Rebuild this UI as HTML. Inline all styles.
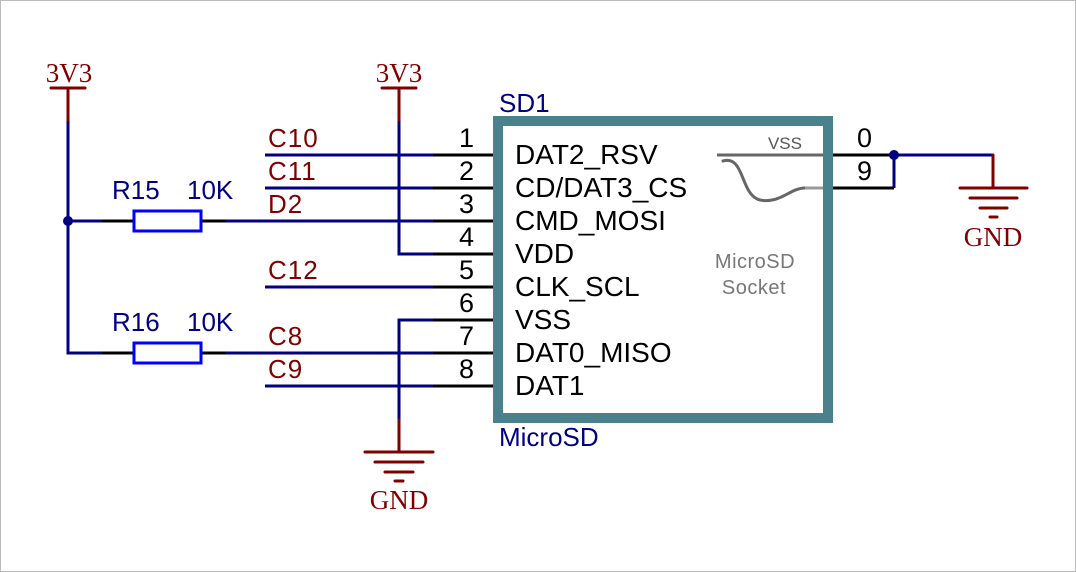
<!DOCTYPE html>
<html><head><meta charset="utf-8"><style>
html,body{margin:0;padding:0;background:#fff}
svg{display:block}
text{font-family:"Liberation Sans",sans-serif}
.ser{font-family:"Liberation Serif",serif}
</style></head><body>
<svg width="1076" height="572" viewBox="0 0 1076 572" xmlns="http://www.w3.org/2000/svg">
<rect x="0.5" y="0.5" width="1075" height="571" fill="#fff" stroke="#bbb"/>
<rect x="498" y="121" width="330" height="297" fill="#fff" stroke="#4a818d" stroke-width="10"/>
<g stroke="#000" stroke-width="3">
<line x1="433" y1="155" x2="493" y2="155"/>
<line x1="433" y1="188" x2="493" y2="188"/>
<line x1="433" y1="221" x2="493" y2="221"/>
<line x1="433" y1="254" x2="493" y2="254"/>
<line x1="433" y1="287" x2="493" y2="287"/>
<line x1="433" y1="320" x2="493" y2="320"/>
<line x1="433" y1="353" x2="493" y2="353"/>
<line x1="433" y1="386" x2="493" y2="386"/>
<line x1="833" y1="155" x2="894" y2="155"/>
<line x1="833" y1="188" x2="894" y2="188"/>
<line x1="102" y1="221" x2="133" y2="221"/>
<line x1="202" y1="221" x2="226" y2="221"/>
<line x1="102" y1="353" x2="133" y2="353"/>
<line x1="202" y1="353" x2="226" y2="353"/>
</g>
<g stroke="#000080" stroke-width="3" fill="none">
<line x1="265" y1="155" x2="433" y2="155"/>
<line x1="265" y1="188" x2="433" y2="188"/>
<line x1="226" y1="221" x2="433" y2="221"/>
<line x1="265" y1="287" x2="433" y2="287"/>
<line x1="226" y1="353" x2="433" y2="353"/>
<line x1="265" y1="386" x2="433" y2="386"/>
<polyline points="68,120 68,353 102,353"/>
<line x1="68" y1="221" x2="102" y2="221"/>
<polyline points="399,120 399,254 433,254"/>
<polyline points="433,320 399,320 399,420"/>
<polyline points="894,188 894,155 993,155"/>
</g>
<circle cx="68" cy="221" r="5" fill="#000080"/>
<circle cx="894" cy="155" r="5" fill="#000080"/>
<rect x="134" y="211" width="67" height="20" fill="none" stroke="#0000ff" stroke-width="3"/>
<rect x="134" y="343" width="67" height="20" fill="none" stroke="#0000ff" stroke-width="3"/>
<g stroke="#800000" stroke-width="3" fill="none" stroke-linecap="round">
<line x1="68" y1="88" x2="68" y2="120"/>
<line x1="51" y1="88" x2="85" y2="88"/>
<line x1="399" y1="88" x2="399" y2="120"/>
<line x1="382" y1="88" x2="416" y2="88"/>
<line x1="399" y1="420" x2="399" y2="452"/>
<line x1="365" y1="452" x2="433" y2="452"/>
<line x1="375" y1="462" x2="423" y2="462"/>
<line x1="385" y1="472" x2="413" y2="472"/>
<line x1="395" y1="481" x2="403" y2="481"/>
<line x1="993" y1="155" x2="993" y2="188"/>
<line x1="960" y1="188" x2="1027" y2="188"/>
<line x1="970" y1="198" x2="1017" y2="198"/>
<line x1="980" y1="208" x2="1007" y2="208"/>
<line x1="990" y1="217" x2="997" y2="217"/>
</g>
<g fill="#800000" font-size="27" text-anchor="middle">
<text class="ser" x="69" y="82">3V3</text>
<text class="ser" x="399" y="82">3V3</text>
<text class="ser" x="399" y="509">GND</text>
<text class="ser" x="993" y="246">GND</text>
</g>
<line x1="717" y1="155" x2="823" y2="155" stroke="#666" stroke-width="3"/>
<path d="M723,161 C745,155 740,195 760,200 C780,204 790,188 805,188" fill="none" stroke="#666" stroke-width="3" stroke-linecap="round"/>
<line x1="805" y1="188" x2="823" y2="188" stroke="#999" stroke-width="3"/>
<text x="802" y="149" font-size="17" fill="#555" text-anchor="end">VSS</text>
<text x="755" y="268" font-size="20" fill="#777" text-anchor="middle" letter-spacing="0.5">MicroSD</text>
<text x="754" y="294" font-size="20" fill="#777" text-anchor="middle" letter-spacing="0.5">Socket</text>
<g font-size="28" fill="#000">
<text x="515" y="164">DAT2_RSV</text>
<text x="515" y="197">CD/DAT3_CS</text>
<text x="515" y="230">CMD_MOSI</text>
<text x="515" y="263">VDD</text>
<text x="515" y="296">CLK_SCL</text>
<text x="515" y="329">VSS</text>
<text x="515" y="362">DAT0_MISO</text>
<text x="515" y="395">DAT1</text>
</g>
<g font-size="27" fill="#000" text-anchor="end">
<text x="474" y="147">1</text>
<text x="474" y="180">2</text>
<text x="474" y="213">3</text>
<text x="474" y="246">4</text>
<text x="474" y="279">5</text>
<text x="474" y="312">6</text>
<text x="474" y="345">7</text>
<text x="474" y="378">8</text>
<text x="872" y="147">0</text>
<text x="872" y="180">9</text>
</g>
<g font-size="26" fill="#800000" letter-spacing="1">
<text x="268" y="147">C10</text>
<text x="268" y="180">C11</text>
<text x="268" y="213">D2</text>
<text x="268" y="279">C12</text>
<text x="268" y="345">C8</text>
<text x="268" y="378">C9</text>
</g>
<g font-size="26" fill="#000080">
<text x="112" y="199">R15</text>
<text x="187" y="199">10K</text>
<text x="112" y="331">R16</text>
<text x="187" y="331">10K</text>
<text x="499" y="112">SD1</text>
<text x="499" y="446">MicroSD</text>
</g>
</svg>
</body></html>
